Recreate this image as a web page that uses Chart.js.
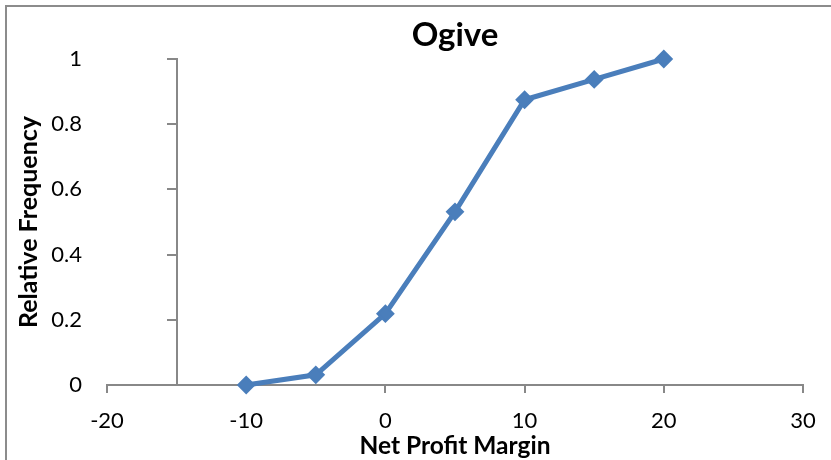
<!DOCTYPE html>
<html>
<head>
<meta charset="utf-8">
<script src="https://cdn.jsdelivr.net/npm/chart.js@4"></script>
<style>
  html, body { margin: 0; padding: 0; background: #fff; }
  #wrap { position: relative; width: 831px; height: 460px; overflow: hidden; }
  #frame { position: absolute; left: 5px; top: 5px; width: 900px; height: 600px;
           border-left: 2px solid #8c8c8c; border-top: 2px solid #8c8c8c; pointer-events: none; }
  canvas { position: absolute; left: 0; top: 0; }
</style>
</head>
<body>
<div id="wrap">
  <canvas id="c" width="831" height="460"></canvas>
  <div id="frame"></div>
</div>
<script>
// Data
const netProfitMargin = [-10, -5, 0, 5, 10, 15, 20];
const relativeFrequency = [0, 0.03125, 0.21875, 0.53125, 0.875, 0.9375, 1];
const xTicks = [-20, -10, 0, 10, 20, 30];
const yTicks = [0, 0.2, 0.4, 0.6, 0.8, 1];

const points = netProfitMargin.map((x, i) => ({ x: x, y: relativeFrequency[i] }));
const FONT = 'Lato, "Open Sans", sans-serif';
const AXIS_GREY = '#888888';

new Chart(document.getElementById('c'), {
  type: 'line',
  data: {
    datasets: [{
      label: 'Relative Frequency',
      data: points,
      borderColor: '#4A7EBB',
      backgroundColor: '#4A7EBB',
      borderWidth: 5,
      pointStyle: 'rectRot',
      pointRadius: 8,
      pointBorderWidth: 2,
      pointBackgroundColor: '#4A7EBB',
      pointBorderColor: '#4A7EBB',
      tension: 0,
      clip: false
    }]
  },
  options: {
    responsive: false,
    animation: false,
    layout: { padding: { left: 0, right: 28, top: 0, bottom: 0 } },
    plugins: {
      legend: { display: false },
      tooltip: { enabled: false },
      title: {
        display: true,
        text: 'Ogive',
        fullSize: false,
        color: '#000',
        font: { family: FONT, size: 33, weight: 'bold', lineHeight: 1.2 },
        padding: { top: 15.5, bottom: 3.9 }
      }
    },
    scales: {
      x: {
        type: 'linear',
        position: 'bottom',
        min: xTicks[0],
        max: xTicks[xTicks.length - 1],
        afterBuildTicks: (s) => { s.ticks = xTicks.map(v => ({ value: v })); },
        afterFit: (s) => { s.height = 75; },
        ticks: { color: '#000', font: { family: FONT, size: 22 }, padding: 15, maxRotation: 0 },
        grid: { drawOnChartArea: false, drawTicks: true, tickLength: 8, color: AXIS_GREY, lineWidth: 2 },
        border: { display: true, color: AXIS_GREY, width: 2 },
        title: {
          display: true,
          text: 'Net Profit Margin',
          color: '#000',
          font: { family: FONT, size: 24.5, weight: 'bold', lineHeight: 1.1 },
          padding: { top: 0, bottom: 0 }
        }
      },
      y: {
        type: 'linear',
        position: 'left',
        min: 0,
        max: 1,
        afterBuildTicks: (s) => { s.ticks = yTicks.map(v => ({ value: v })); },
        afterFit: (s) => { s.width = 107; },
        ticks: { color: '#000', font: { family: FONT, size: 22 }, padding: 25,
                 callback: (v) => String(Math.round(v * 10) / 10) },
        grid: { display: false, drawTicks: false },
        border: { display: false },
        title: {
          display: true,
          text: 'Relative Frequency',
          color: '#000',
          font: { family: FONT, size: 25, weight: 'bold', lineHeight: 1.2 },
          padding: { top: 14, bottom: 0 }
        }
      },
      y2: {
        type: 'linear',
        axis: 'y',
        position: { x: -15 },
        min: 0,
        max: 1,
        afterBuildTicks: (s) => { s.ticks = yTicks.map(v => ({ value: v })); },
        ticks: { display: false },
        grid: { drawOnChartArea: false, drawTicks: true, tickLength: 9, color: AXIS_GREY, lineWidth: 2 },
        border: { display: true, color: AXIS_GREY, width: 2 }
      }
    }
  }
});
</script>
</body>
</html>
